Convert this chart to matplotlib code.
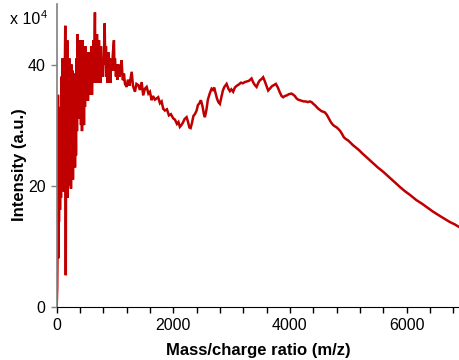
import numpy as np
import matplotlib
matplotlib.use("Agg")
import matplotlib.pyplot as plt
from matplotlib.ticker import MultipleLocator

plt.rcParams["font.family"] = ["Liberation Sans", "DejaVu Sans"]

LINE_COLOR = "#c00000"

# m/z positions of the spectrum trace
mz = [
    0, 9, 17, 22, 27, 34, 39, 48, 57, 65, 74, 82, 91, 99, 108, 117, 125, 134,
    147, 156, 165, 173, 182, 190, 199, 207, 219, 228, 237, 245, 254, 262, 271,
    279, 288, 297, 305, 314, 322, 331, 339, 348, 357, 365, 374, 382, 391, 399,
    408, 417, 425, 434, 442, 451, 459, 468, 476, 485, 494, 502, 511, 519, 528,
    536, 545, 554, 562, 571, 579, 588, 596, 605, 614, 622, 631, 639, 656, 665,
    674, 682, 691, 699, 708, 716, 725, 734, 742, 751, 759, 768, 776, 794, 811,
    823, 833, 845, 854, 862, 871, 888, 896, 914, 922, 931, 948, 965, 982, 991,
    999, 1016, 1034, 1042, 1059, 1076, 1094, 1114, 1128, 1136, 1154, 1171,
    1200, 1222, 1248, 1286, 1308, 1342, 1368, 1399, 1428, 1457, 1484, 1513,
    1543, 1573, 1599, 1628, 1651, 1685, 1714, 1741, 1771, 1800, 1827, 1856,
    1891, 1925, 1959, 1999, 2028, 2062, 2088, 2113, 2139, 2165, 2194, 2228,
    2250, 2276, 2297, 2319, 2345, 2370, 2400, 2422, 2448, 2473, 2499, 2525,
    2542, 2568, 2593, 2628, 2657, 2679, 2701, 2722, 2748, 2773, 2799, 2825,
    2850, 2876, 2914, 2945, 2970, 2996, 3027, 3056, 3090, 3124, 3159, 3193,
    3227, 3262, 3296, 3342, 3373, 3399, 3428, 3459, 3485, 3514, 3541, 3567,
    3596, 3627, 3656, 3690, 3724, 3759, 3793, 3827, 3857, 3884, 3913, 3947,
    3982, 4028, 4059, 4084, 4114, 4141, 4170, 4204, 4238, 4273, 4307, 4341,
    4371, 4402, 4427, 4457, 4487, 4513, 4542, 4570, 4599, 4633, 4667, 4701,
    4741, 4770, 4804, 4856, 4890, 4924, 4958, 4993, 5027, 5079, 5130, 5181,
    5233, 5313, 5370, 5439, 5507, 5598, 5679, 5747, 5816, 5884, 5970, 6055,
    6170, 6267, 6369, 6455, 6570, 6656, 6741, 6827, 6895,
]

# intensity in units of 1e4 counts
intensity = [
    0, 3, 12, 35, 8, 30, 14, 33, 16, 28, 18, 38, 21, 41, 20, 36, 19, 33,
    46.4, 5.2, 42, 21, 44, 18, 40, 20, 41, 22, 38, 19.5, 40, 22, 39,
    21, 38, 24, 38.5, 23, 37, 25, 41, 29, 45, 31, 43, 31, 44, 32,
    43, 30, 41, 29, 44, 30, 43, 30, 41, 33, 43, 34, 42, 34, 42,
    34, 41, 35, 42, 35, 41, 36, 43, 35, 40, 37, 44, 37, 48.6, 38,
    42, 37, 45, 38, 42, 37, 44, 38, 41, 37, 43, 38, 40, 38, 42,
    46.8, 40, 43, 38, 41, 37, 42, 38, 41, 37, 40, 39, 42, 44, 39,
    41, 38, 40, 37.5, 40, 38, 39, 40.7, 38, 37.4, 38.5, 36.8,
    36.3, 37.5, 36.5, 38.8, 36.5, 35.5, 36.8, 36.6, 35.8, 37.1, 34.9, 36,
    36.3, 35.2, 35.5, 34.1, 34.8, 34.2, 34.4, 34.6, 33.6, 33.9, 32.7, 32.4,
    32.6, 31.6, 31.8, 31.1, 30.9, 30.2, 30.5, 29.7, 30.0, 30.4, 31.0, 31.3,
    30.6, 29.6, 29.5, 30.3, 31.5, 31.8, 32.4, 33.3, 33.6, 34.1, 33.2, 31.8,
    31.3, 32.5, 34.2, 35.3, 36.0, 35.8, 36.2, 35.4, 34.4, 33.8, 33.5, 34.6,
    35.7, 36.3, 36.8, 36.0, 35.6, 35.9, 35.5, 36.2, 36.5, 36.7, 37.0, 36.9,
    37.1, 37.2, 37.3, 37.7, 37.0, 36.6, 36.3, 37.0, 37.4, 37.6, 37.9, 37.3,
    36.5, 35.7, 36.0, 36.4, 36.6, 36.8, 36.2, 35.4, 34.8, 34.6, 34.8, 34.9,
    35.1, 35.2, 35.0, 34.8, 34.4, 34.2, 34.1, 34.0, 33.9, 33.9, 33.8, 33.9,
    33.8, 33.5, 33.3, 33.0, 32.7, 32.5, 32.3, 32.2, 32.1, 31.7, 31.1, 30.5,
    30.0, 29.8, 29.6, 29.1, 28.6, 28.0, 27.7, 27.5, 27.2, 26.7, 26.3, 25.9,
    25.4, 24.7, 24.2, 23.6, 23.0, 22.3, 21.6, 21.0, 20.4, 19.8, 19.1, 18.5,
    17.6, 17.0, 16.3, 15.7, 15.0, 14.5, 14.0, 13.6, 13.2,
]

x_ticks = [0, 2000, 4000, 6000]
y_ticks = [0, 20, 40]

fig = plt.figure(figsize=(4.59, 3.60), dpi=100)
ax = fig.add_axes([0.1235, 0.148, 0.8765, 0.841])

ax.plot(mz, intensity, color=LINE_COLOR, lw=1.8, solid_joinstyle="miter")

ax.set_xlim(0, 6900)
ax.set_ylim(0, 50)
ax.set_xticks(x_ticks)
ax.xaxis.set_minor_locator(MultipleLocator(400))
ax.set_yticks(y_ticks)

for side in ("top", "right"):
    ax.spines[side].set_visible(False)
ax.spines["bottom"].set_color("black")
ax.spines["left"].set_color("#808080")
ax.spines["left"].set_linewidth(1.2)

ax.tick_params(axis="x", which="both", direction="out", length=4,
               width=1, color="black", labelsize=11.5, pad=4)
ax.tick_params(axis="y", direction="out", length=4, width=1,
               color="#808080", labelsize=11.5, pad=4)

ax.set_xlabel("Mass/charge ratio (m/z)", fontsize=12, fontweight="bold")
ax.set_ylabel("Intensity (a.u.)", fontsize=12, fontweight="bold")
ax.xaxis.set_label_coords(0.5, -0.12)
ax.yaxis.set_label_coords(-0.074, 0.468)

# scale factor note above the y axis
fig.text(0.022, 0.925, "x 10", fontsize=11.5, va="bottom", ha="left")
fig.text(0.088, 0.945, "4", fontsize=8, va="bottom", ha="left")

fig.savefig("out.png", dpi=100)
